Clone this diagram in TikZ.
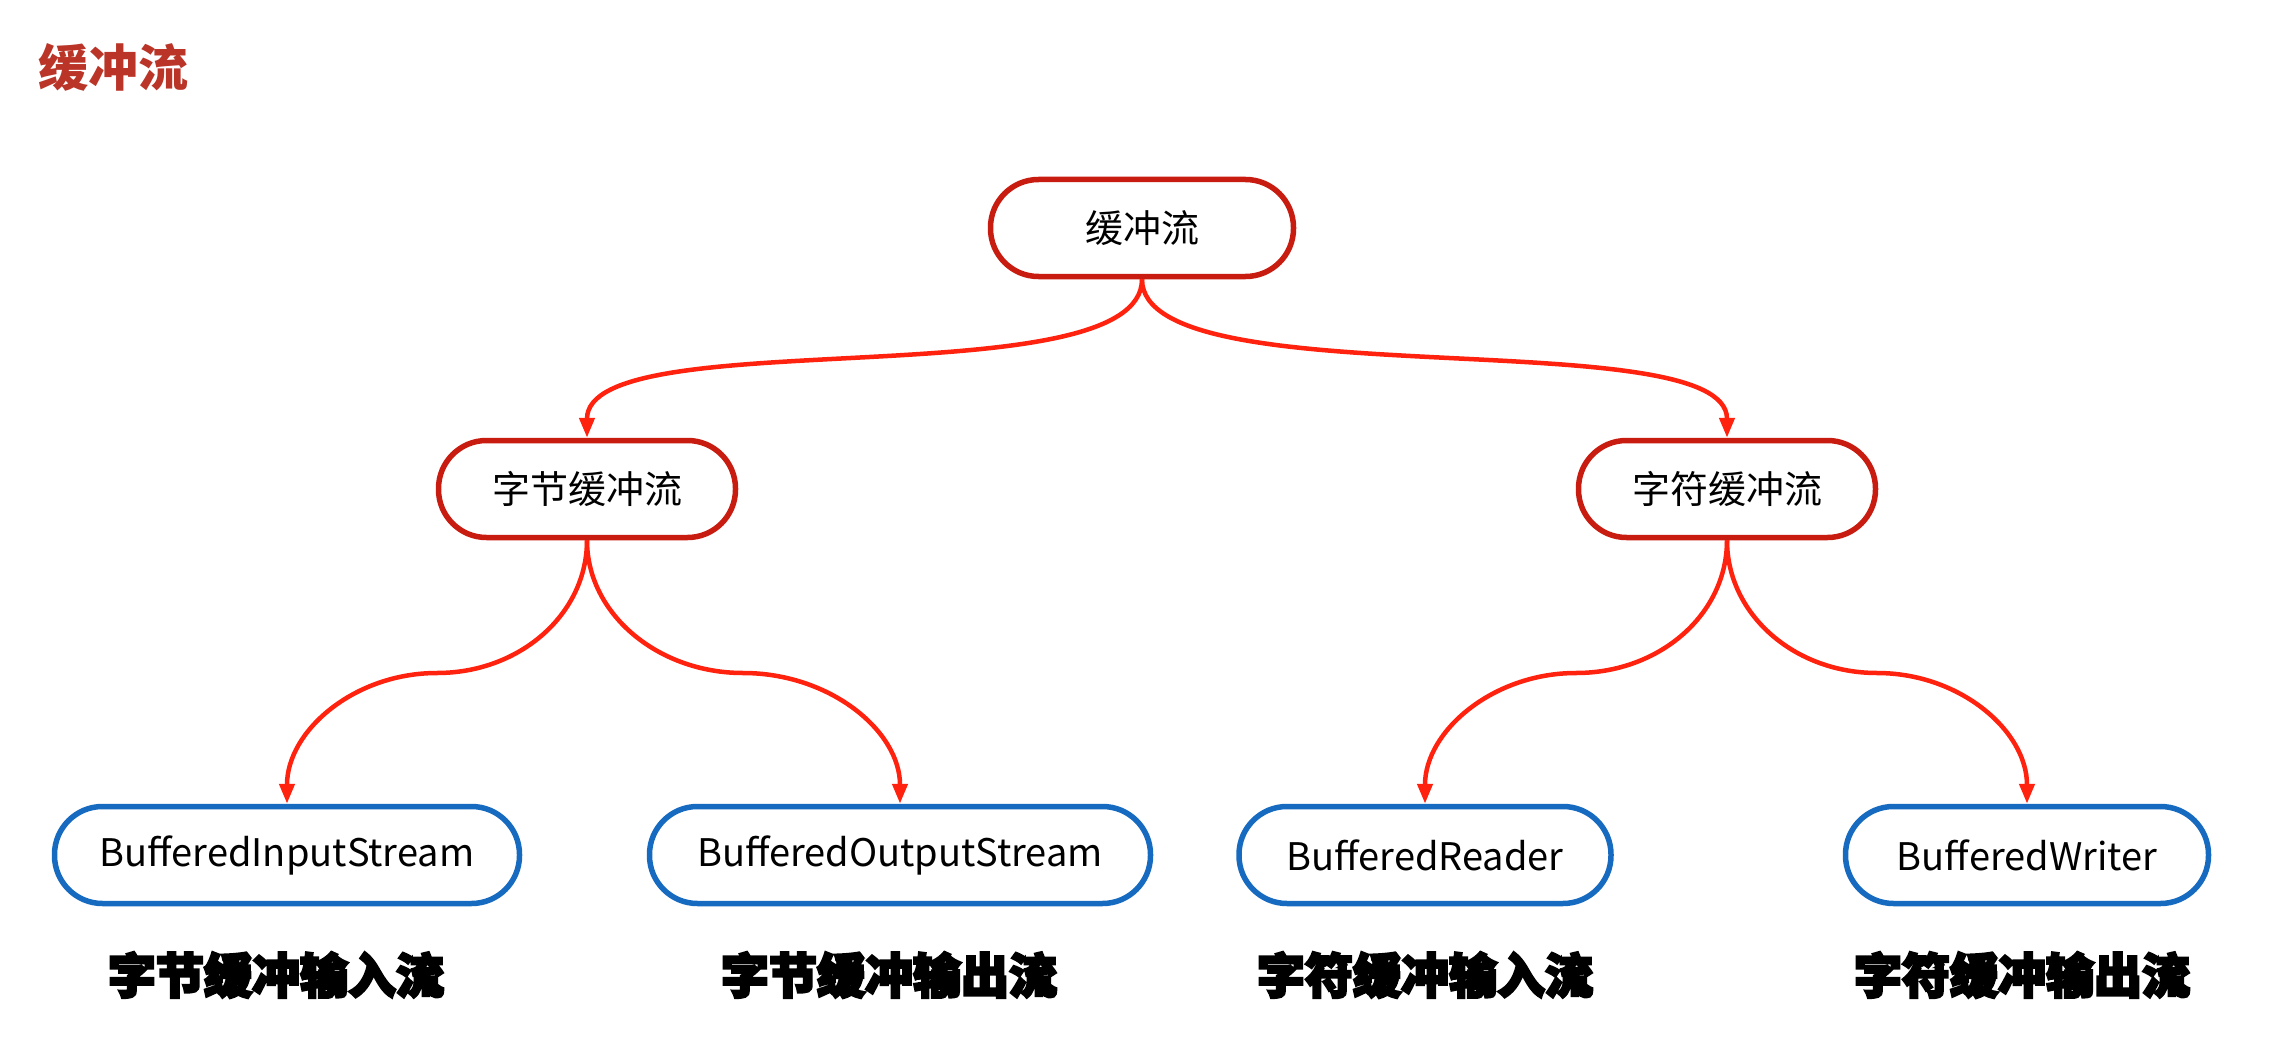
\documentclass[tikz,border=0pt]{standalone}
\usepackage{fontspec}
\usetikzlibrary{arrows.meta}
\newfontfamily\cjk{Noto Sans CJK SC}
\newfontfamily\cjkheavy[BoldFeatures={FakeBold=5}]{Noto Sans CJK SC}
\definecolor{linered}{RGB}{255,34,14}
\definecolor{nodered}{RGB}{200,28,16}
\definecolor{nodeblue}{RGB}{22,106,192}
\definecolor{titlered}{RGB}{186,52,40}
\begin{document}
\begin{tikzpicture}[x=1pt,y=-1pt,
  basenode/.style={line width=5.5pt, rounded corners=48pt, minimum height=97pt, fill=white, inner sep=0pt, font=\cjk\fontsize{38}{44}\selectfont, text=black},
  rednode/.style={basenode, draw=nodered},
  bluenode/.style={basenode, draw=nodeblue},
  conn/.style={draw=linered, line width=4.5pt, -{Triangle[length=20pt,width=15pt]}},
  lbl/.style={font=\cjkheavy\bfseries\fontsize{48}{52}\selectfont, text=black},
  titletext/.style={font=\cjk\bfseries\fontsize{50}{56}\selectfont, text=titlered}]
\fill[white] (0,0) rectangle (2279,1062);
\useasboundingbox (0,0) rectangle (2279,1062);

\node[titletext] (title) at (113,67) {缓冲流};

\node[rednode, minimum width=303pt] (top) at (1142,228) {缓冲流};
\node[rednode, minimum width=297pt] (n2a) at (587,489) {字节缓冲流};
\node[rednode, minimum width=297pt] (n2b) at (1727,489) {字符缓冲流};

\node[bluenode, minimum width=465pt] (b1) at (287,855) {BufferedInputStream};
\node[bluenode, minimum width=501pt] (b2) at (900,855) {BufferedOutputStream};
\node[bluenode, minimum width=372pt] (b3) at (1425,855) {BufferedReader};
\node[bluenode, minimum width=363pt] (b4) at (2027,855) {BufferedWriter};

\node[lbl] (l1) at (276,975) {字节缓冲输入流};
\node[lbl] (l2) at (889,975) {字节缓冲输出流};
\node[lbl] (l3) at (1425,975) {字符缓冲输入流};
\node[lbl] (l4) at (2022,975) {字符缓冲输出流};

\coordinate (m1) at (437,673);
\coordinate (m2) at (743,673);
\coordinate (m3) at (1576,673);
\coordinate (m4) at (1877,673);

\draw[conn] (top.south) .. controls (1142,400) and (587,320) .. (n2a.north);
\draw[conn] (top.south) .. controls (1142,400) and (1727,320) .. (n2b.north);

\draw[conn] (n2a.south) .. controls (587,614) and (520,673) .. (m1) .. controls (354,673) and (287,731) .. (b1.north);
\draw[conn] (n2a.south) .. controls (587,614) and (658,673) .. (m2) .. controls (830,673) and (900,731) .. (b2.north);
\draw[conn] (n2b.south) .. controls (1727,614) and (1660,673) .. (m3) .. controls (1493,673) and (1425,731) .. (b3.north);
\draw[conn] (n2b.south) .. controls (1727,614) and (1794,673) .. (m4) .. controls (1960,673) and (2027,731) .. (b4.north);
\end{tikzpicture}
\end{document}
